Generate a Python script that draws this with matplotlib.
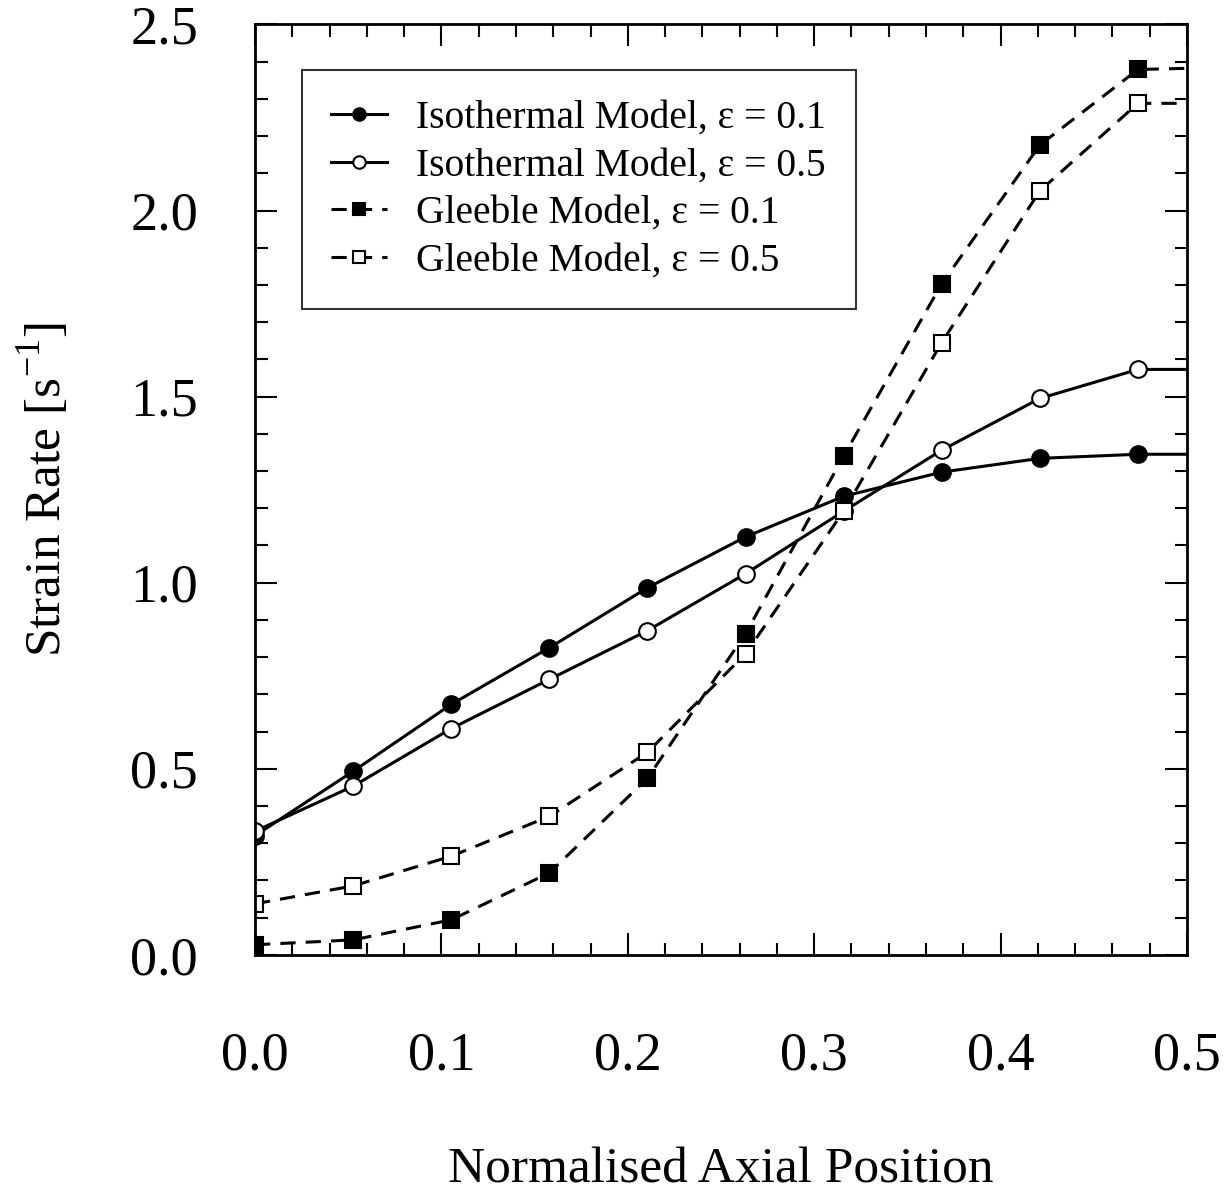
import numpy as np
from matplotlib import pyplot as plt
from matplotlib.ticker import MultipleLocator

plt.rcParams['font.family'] = ['Liberation Serif', 'DejaVu Serif']
plt.rcParams['mathtext.fontset'] = 'custom'
plt.rcParams['mathtext.rm'] = 'Liberation Serif'

# axial positions (last point = end of line, no marker)
position = [0.0, 0.0526, 0.1053, 0.1579, 0.2105, 0.2632, 0.3158, 0.3684, 0.4211, 0.4737, 0.5]

iso_01 = [0.32, 0.493, 0.673, 0.825, 0.986, 1.123, 1.232, 1.297, 1.334, 1.345, 1.345]
iso_05 = [0.332, 0.453, 0.608, 0.740, 0.871, 1.024, 1.192, 1.356, 1.495, 1.573, 1.573]
gle_01 = [0.027, 0.040, 0.094, 0.220, 0.474, 0.863, 1.340, 1.803, 2.176, 2.379, 2.382]
gle_05 = [0.137, 0.185, 0.265, 0.372, 0.544, 0.809, 1.192, 1.645, 2.053, 2.288, 2.288]

labels = ['Isothermal Model, ε = 0.1', 'Isothermal Model, ε = 0.5',
          'Gleeble Model, ε = 0.1', 'Gleeble Model, ε = 0.5']

fig = plt.figure(figsize=(12.29, 11.92), dpi=100)
ax = fig.add_axes([0.2075, 0.199, 0.7583, 0.7805])

n_mark = len(position) - 1
lw = 2.2
dash = (5, 3.3)
ax.plot(position, iso_01, '-', color='black', lw=lw, marker='o', ms=12,
        mfc='black', mec='black', mew=1.5, markevery=range(n_mark), label=labels[0])
ax.plot(position, iso_05, '-', color='black', lw=lw, marker='o', ms=12,
        mfc='white', mec='black', mew=1.5, markevery=range(n_mark), label=labels[1])
ax.plot(position, gle_01, '--', color='black', lw=lw, dashes=dash, marker='s', ms=12,
        mfc='black', mec='black', mew=1.5, markevery=range(n_mark), label=labels[2])
ax.plot(position, gle_05, '--', color='black', lw=lw, dashes=dash, marker='s', ms=12,
        mfc='white', mec='black', mew=1.5, markevery=range(n_mark), label=labels[3])

ax.set_xlim(0, 0.5)
ax.set_ylim(0, 2.5)
ax.xaxis.set_major_locator(MultipleLocator(0.1))
ax.xaxis.set_minor_locator(MultipleLocator(0.02))
ax.yaxis.set_major_locator(MultipleLocator(0.5))
ax.yaxis.set_minor_locator(MultipleLocator(0.1))
ax.xaxis.set_major_formatter(plt.FormatStrFormatter('%.1f'))
ax.yaxis.set_major_formatter(plt.FormatStrFormatter('%.1f'))

ax.tick_params(which='both', direction='in', top=True, right=True, width=1.5, labelsize=39)
ax.tick_params(which='major', length=16)
ax.tick_params(which='minor', length=9)
ax.tick_params(axis='x', pad=55)
ax.tick_params(axis='y', pad=41)
for sp in ax.spines.values():
    sp.set_linewidth(2)

ax.set_xlabel('Normalised Axial Position', fontsize=37, labelpad=47)
ax.set_ylabel('Strain Rate [s$^{-1}$]', fontsize=37, labelpad=42)

leg = ax.legend(loc='upper left', bbox_to_anchor=(0.05, 0.951), borderaxespad=0,
                fontsize=28.5, frameon=True, fancybox=False, edgecolor='black',
                handlelength=1.4, handletextpad=0.75, labelspacing=0.27,
                borderpad=0.75)
leg.get_frame().set_linewidth(1.5)
for h in leg.legend_handles:
    h.set_markersize(9)

plt.savefig('out.png', dpi=100)
